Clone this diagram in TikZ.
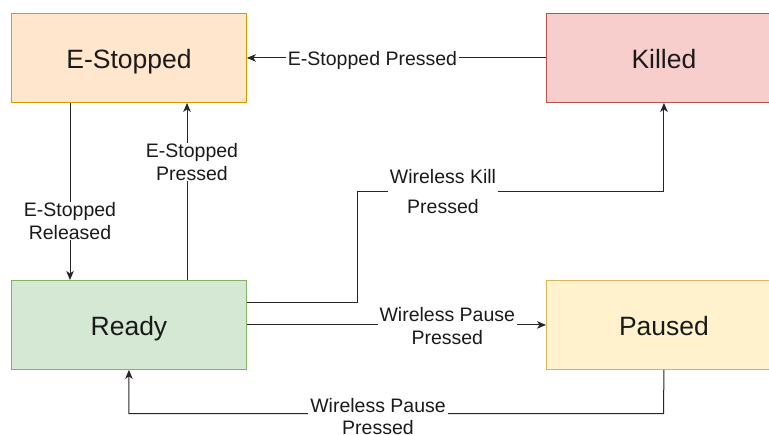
\documentclass[tikz,border=0pt]{standalone}
\usepackage{fontspec}
\setmainfont{Liberation Sans}
\usetikzlibrary{arrows.meta,calc}
\definecolor{esfill}{HTML}{FFE6CC}\definecolor{esdraw}{HTML}{D79B00}
\definecolor{klfill}{HTML}{F8CECC}\definecolor{kldraw}{HTML}{B85450}
\definecolor{rdfill}{HTML}{D5E8D4}\definecolor{rddraw}{HTML}{82B366}
\definecolor{pafill}{HTML}{FFF2CC}\definecolor{padraw}{HTML}{D6B656}
\definecolor{txt}{HTML}{1A1A1A}
\tikzset{
  state/.style={rectangle, draw, line width=0.9pt, minimum width=235pt, minimum height=89pt,
    inner sep=0pt, anchor=north west, text=txt, text height=21pt, text depth=0pt,
    font=\fontsize{26.5}{30}\selectfont},
  conn/.style={draw=black!85, line width=1pt, -{Stealth[length=9pt,width=7.5pt,inset=2.5pt]}},
  lbl/.style={fill=white, inner xsep=2pt, inner ysep=1pt, text=txt, align=center,
    font=\fontsize{19.5}{22.5}\selectfont}
}
\begin{document}
\begin{tikzpicture}[x=1pt,y=-1pt]
\useasboundingbox (0,0) rectangle (769,435);
\clip (0,0) rectangle (769,435);
\node[state, fill=esfill, draw=esdraw] (es) at (11,13) {E-Stopped};
\node[state, fill=klfill, draw=kldraw] (kl) at (546,13) {Killed};
\node[state, fill=rdfill, draw=rddraw] (rd) at (11,280) {Ready};
\node[state, fill=pafill, draw=padraw] (pa) at (546,280) {Paused};
\coordinate (k1) at (357,191.7);
\coordinate (b1) at (663.5,413.7);
% E-Stopped -> Ready
\draw[conn] ([xshift=59pt]es.south west) -- ([xshift=59pt]rd.north west)
  node[lbl, pos=0.667] (l1) {E-Stopped\\Released};
% Ready -> E-Stopped
\draw[conn] ([xshift=176pt]rd.north west) -- ([xshift=176pt]es.south west)
  node[lbl, pos=0.666, xshift=5pt] (l2) {E-Stopped\\Pressed};
% Killed -> E-Stopped
\draw[conn] (kl.west) -- (es.east)
  node[lbl, pos=0.58, yshift=-2.5pt] (l3) {E-Stopped Pressed};
% Ready -> Killed
\draw[conn] ([yshift=22pt]rd.east) -| (k1) -| (kl.south);
\node[lbl, inner ysep=0pt] (l4) at (443,191.7) {Wireless Kill\\[8pt]Pressed};
% Ready -> Paused
\draw[conn] (rd.east) -- (pa.west)
  node[lbl, pos=0.67, yshift=-1pt] (l5) {Wireless Pause\\Pressed};
% Paused -> Ready
\draw[conn] (pa.south) -- (b1) -| (rd.south);
\node[lbl] (l6) at (378,416.5) {Wireless Pause\\Pressed};
\end{tikzpicture}
\end{document}
